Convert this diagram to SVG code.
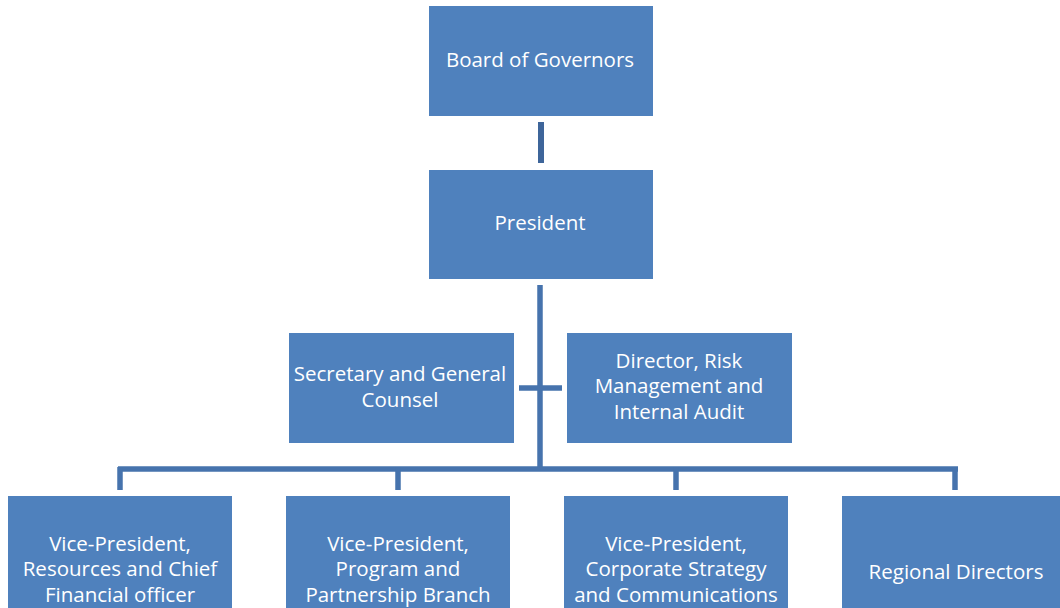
<svg xmlns="http://www.w3.org/2000/svg" width="1060" height="608" viewBox="0 0 1060 608">
<style>
.box{fill:#4F81BD;}
.t{font-family:"Open Sans","Liberation Sans",sans-serif;font-size:20.5px;fill:#ffffff;text-anchor:middle;}
.c{fill:none;stroke:#4673AD;stroke-width:5.5;}
</style>
<rect width="1060" height="608" fill="#ffffff"/>
<g id="connectors">
<line x1="541" y1="122" x2="541" y2="163" stroke="#3E659A" stroke-width="6" fill="none"/>
<line class="c" x1="540" y1="285" x2="540" y2="469"/>
<line class="c" x1="519" y1="388" x2="562" y2="388"/>
<line class="c" x1="118" y1="469" x2="958" y2="469"/>
<line class="c" x1="120" y1="467" x2="120" y2="490"/>
<line class="c" x1="398" y1="467" x2="398" y2="490"/>
<line class="c" x1="676" y1="467" x2="676" y2="490"/>
<line class="c" x1="955" y1="467" x2="955" y2="490"/>
</g>
<g id="board"><rect class="box" x="429" y="6" width="224" height="110"/><text class="t" x="540" y="67">Board of Governors</text></g>
<g id="president"><rect class="box" x="429" y="170" width="224" height="109"/><text class="t" x="540" y="230">President</text></g>
<g id="secretary"><rect class="box" x="289" y="333" width="225" height="110"/><text class="t" x="400" y="381">Secretary and General</text><text class="t" x="400" y="407">Counsel</text></g>
<g id="director"><rect class="box" x="567" y="333" width="225" height="110"/><text class="t" x="679" y="368">Director, Risk</text><text class="t" x="679" y="393">Management and</text><text class="t" x="679" y="419">Internal Audit</text></g>
<g id="vp1"><rect class="box" x="8" y="496" width="224" height="115"/><text class="t" x="120" y="551">Vice-President,</text><text class="t" x="120" y="576">Resources and Chief</text><text class="t" x="120" y="602">Financial officer</text></g>
<g id="vp2"><rect class="box" x="286" y="496" width="224" height="115"/><text class="t" x="398" y="551">Vice-President,</text><text class="t" x="398" y="576">Program and</text><text class="t" x="398" y="602">Partnership Branch</text></g>
<g id="vp3"><rect class="box" x="564" y="496" width="224" height="115"/><text class="t" x="676" y="551">Vice-President,</text><text class="t" x="676" y="576">Corporate Strategy</text><text class="t" x="676" y="602">and Communications</text></g>
<g id="regional"><rect class="box" x="842" y="496" width="218" height="115"/><text class="t" x="956" y="579">Regional Directors</text></g>
</svg>
